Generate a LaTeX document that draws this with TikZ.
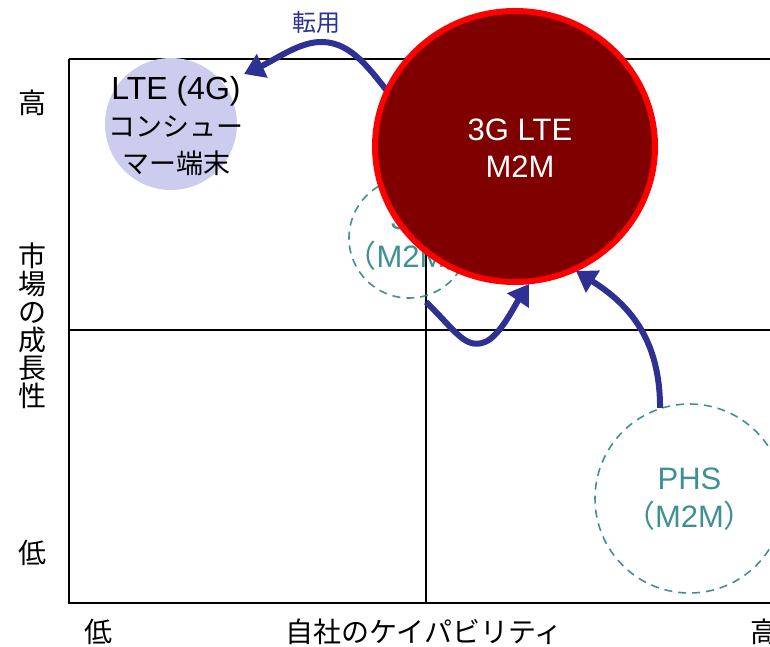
\documentclass[tikz,border=0pt]{standalone}
\usepackage{fontspec}
\setmainfont{Liberation Sans}
\newfontfamily\jp{Noto Sans CJK JP}
\usetikzlibrary{arrows.meta,shapes.geometric}
\definecolor{navy}{HTML}{2E3192}
\definecolor{tealc}{HTML}{3F9094}
\definecolor{lav}{HTML}{CCCCEE}
\definecolor{darkred}{HTML}{800000}
\begin{document}
\begin{tikzpicture}[x=1pt,y=-1pt,
  axis/.style={line width=2pt,black},
  jplab/.style={font=\jp\fontsize{28}{28}\selectfont,inner sep=0pt},
  dashcirc/.style={circle,draw=tealc,line width=1.6pt,dash pattern=on 8pt off 6pt,inner sep=0pt},
  dashtext/.style={text=tealc,align=center,inner sep=0pt,font=\fontsize{31}{38}\selectfont},
  flow/.style={draw=navy,line width=6pt,-{Triangle[length=20pt,width=25pt]}},
]
\useasboundingbox (0,0) rectangle (770,647);
% frame
\draw[axis] (69,59) -- (790,59);
\draw[axis] (69,59) -- (69,603) -- (790,603);
\draw[axis] (426,59) -- (426,603);
\draw[axis] (69,330) -- (790,330);
% axis labels
\node[jplab] (yhi) at (32,103) {高};
\node[jplab,align=center] (ylab) at (32,326) {市\\場\\の\\成\\長\\性};
\node[jplab] (ylo) at (32,553) {低};
\node[jplab] (xlo) at (98,632) {低};
\node[jplab] (xlab) at (424,632) {自社のケイパビリティ};
\node[jplab] (xhi) at (764,632) {高};
% LTE consumer circle
\node[circle,fill=lav,minimum size=132pt,inner sep=0pt] (lte) at (171,124) {};
\node[align=center,inner sep=0pt,font=\fontsize{32}{37}\selectfont] (ltetext) at (176,126)
  {LTE (4G)\\{\jp\fontsize{27}{37}\selectfont コンシュー}\\{\jp\fontsize{27}{37}\selectfont マー端末}};
% 3G M2M circle
\node[dashcirc,minimum size=120pt] (m3g) at (409,238) {};
\node[dashtext] (m3gtext) at (411,239) {3G\\{\jp （}M2M{\jp ）}};
% arrow 1 (behind the big circle)
\coordinate (a1s) at (388,92);
\coordinate (a1e) at (244,74);
\draw[flow] (a1s) .. controls (370,70) and (352,43) .. (323,42) .. controls (300,41) and (275,60) .. (a1e);
\node[font=\jp\fontsize{24}{24}\selectfont,text=navy,inner sep=0pt] (lbl) at (316,22) {転用};
% big circle
\node[ellipse,draw=red,line width=6pt,fill=darkred,minimum width=280pt,minimum height=271pt,inner sep=0pt] (big) at (515,146.5) {};
\node[text=white,align=center,inner sep=0pt,font=\fontsize{31}{37}\selectfont] (bigtext) at (520,148) {3G LTE\\M2M};
% PHS
\node[dashcirc,minimum size=189pt] (phs) at (689.5,498.5) {};
\node[dashtext] (phstext) at (689.5,499) {PHS\\{\jp （}M2M{\jp ）}};
% arrows 2 and 3
\coordinate (a2s) at (426,302);
\coordinate (a2e) at (529,284);
\draw[flow] (a2s) .. controls (455,330) and (465,350) .. (485,342) .. controls (500,336) and (515,305) .. (a2e);
\coordinate (a3e) at (576,271);
\draw[flow] (phs.108) .. controls (660,340) and (630,305) .. (a3e);
\end{tikzpicture}
\end{document}
